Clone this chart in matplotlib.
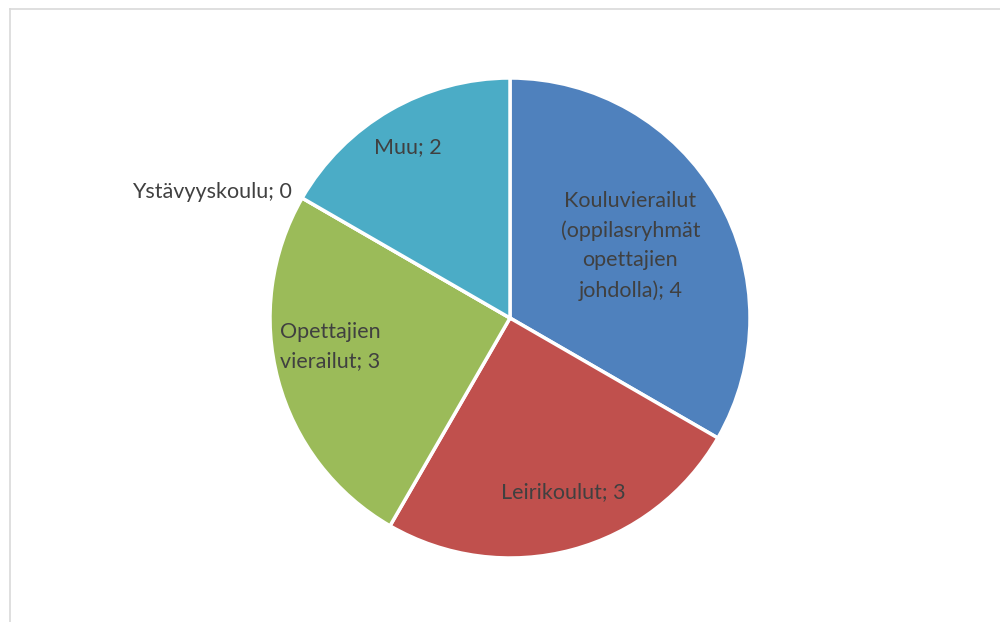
import numpy as np
import matplotlib.pyplot as plt
from matplotlib.lines import Line2D

labels = ["Kouluvierailut\n(oppilasryhmät\nopettajien\njohdolla)", "Leirikoulut",
          "Opettajien\nvierailut", "Ystävyyskoulu", "Muu"]
values = [4, 3, 3, 0, 2]
colors = ["#4F81BD", "#C0504D", "#9BBB59", "#8064A2", "#4BACC6"]

# label placement: fraction of radius, angle offset (deg), alignment
label_r = [0.585, 0.76, 0.76, 1.05, 0.83]
label_da = [1, 2, -6, 0, 1]
label_ha = ["center", "center", "center", "right", "center"]
label_ma = ["center", "center", "left", "center", "center"]

plt.rcParams['font.family'] = ['Lato', 'DejaVu Sans']

fig = plt.figure(figsize=(10, 6.22), dpi=100)
cx, cy, r = 510, 318, 240
ax = fig.add_axes([(cx - r) / 1000, (622 - cy - r) / 622, 2 * r / 1000, 2 * r / 622])

wedges, _ = ax.pie(values, colors=colors, startangle=90, counterclock=False,
                   wedgeprops=dict(edgecolor='white', linewidth=2.5))
ax.set_xlim(-1, 1)
ax.set_ylim(-1, 1)
ax.set_aspect('equal')

for w, lab, v, lr, da, ha, ma in zip(wedges, labels, values, label_r, label_da, label_ha, label_ma):
    ang = np.deg2rad((w.theta1 + w.theta2) / 2 + da)
    ax.text(lr * np.cos(ang), lr * np.sin(ang), f"{lab}; {v}", ha=ha, va='center',
            fontsize=15.5, color='#404040', linespacing=1.58, multialignment=ma)

# chart frame (cropped on right and bottom)
fig.add_artist(Line2D([0.010, 1.0], [1 - 8.5 / 622, 1 - 8.5 / 622], color='#D9D9D9', lw=1.2))
fig.add_artist(Line2D([0.010, 0.010], [0, 1 - 8.5 / 622], color='#D9D9D9', lw=1.2))

fig.savefig('out.png', dpi=100)
